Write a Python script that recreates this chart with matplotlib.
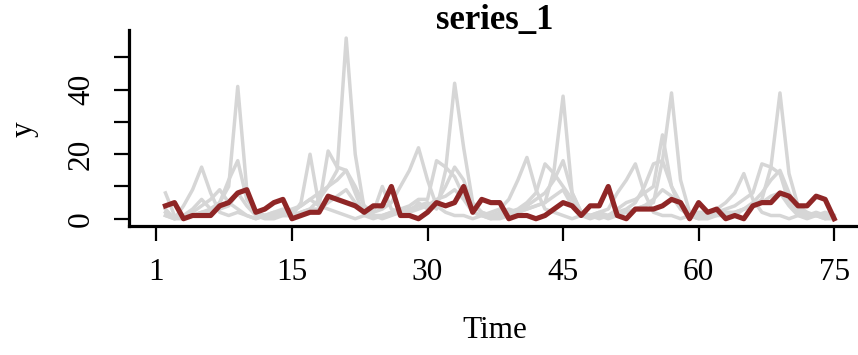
import matplotlib
matplotlib.use("Agg")
import matplotlib.pyplot as plt

# time index and axis labels
time = list(range(1, 76))
xtick_pos = [0, 15, 30, 45, 60, 75]
xtick_labels = ["1", "15", "30", "45", "60", "75"]
ytick_pos = [0, 10, 20, 30, 40, 50]
ytick_labels = ["0", "", "20", "", "40", ""]

# highlighted series
series_1 = [4, 5, 0, 1, 1, 1, 4, 5, 8, 9, 2, 3,
            5, 6, 0, 1, 2, 2, 7, 6, 5, 4, 2, 4,
            4, 10, 1, 1, 0, 2, 5, 4, 5, 10, 2, 6,
            5, 5, 0, 1, 1, 0, 1, 3, 5, 4, 1, 4,
            4, 10, 1, 0, 3, 3, 3, 4, 6, 5, 0, 5,
            2, 3, 0, 1, 0, 4, 5, 5, 8, 7, 4, 4,
            7, 6, 0]

# other series drawn in grey behind
series_a = [8, 1, 0, 1, 2, 3, 5, 10, 41, 9, 2, 1,
            1, 2, 2, 4, 6, 8, 10, 15, 56, 20, 3, 1,
            1, 2, 2, 3, 4, 5, 3, 15, 42, 22, 5, 2,
            1, 1, 2, 2, 3, 4, 5, 15, 38, 8, 2, 1,
            1, 1, 2, 2, 3, 4, 5, 18, 39, 12, 2, 1,
            1, 1, 2, 2, 3, 4, 6, 16, 39, 14, 4, 2,
            1, 1, 0]
series_b = [2, 0, 4, 9, 16, 8, 2, 1, 2, 1, 0, 1,
            2, 1, 1, 5, 20, 4, 3, 2, 1, 0, 1, 2,
            3, 5, 10, 15, 22, 12, 4, 2, 1, 1, 0, 1,
            2, 3, 6, 12, 19, 9, 3, 2, 1, 0, 1, 1,
            2, 3, 8, 12, 17, 8, 2, 1, 1, 0, 1, 2,
            2, 3, 5, 8, 14, 6, 2, 1, 1, 0, 1, 1,
            2, 1, 0]
series_c = [1, 0, 1, 2, 4, 6, 9, 5, 3, 1, 0, 1,
            1, 2, 3, 4, 6, 4, 21, 16, 15, 8, 1, 0,
            1, 2, 3, 4, 6, 6, 18, 16, 13, 7, 2, 1,
            0, 1, 2, 3, 5, 8, 17, 14, 10, 6, 2, 1,
            0, 1, 2, 3, 5, 10, 17, 18, 10, 3, 1, 0,
            1, 2, 3, 4, 6, 8, 17, 16, 14, 5, 2, 1,
            1, 0, 1]
series_d = [3, 0, 1, 3, 6, 3, 5, 12, 18, 6, 2, 1,
            2, 3, 1, 2, 3, 6, 10, 12, 15, 10, 4, 2,
            10, 3, 2, 2, 5, 3, 5, 10, 16, 12, 4, 2,
            1, 2, 3, 2, 4, 6, 8, 12, 18, 8, 2, 1,
            2, 1, 3, 5, 6, 8, 10, 26, 10, 5, 2, 1,
            2, 3, 2, 1, 3, 5, 8, 12, 15, 8, 3, 1,
            1, 2, 1]
series_e = [1, 0, 0, 1, 2, 2, 3, 4, 8, 4, 1, 0,
            0, 1, 1, 2, 3, 3, 5, 7, 9, 5, 2, 1,
            0, 1, 2, 2, 3, 4, 6, 7, 9, 6, 2, 1,
            0, 0, 1, 2, 3, 4, 5, 7, 9, 4, 1, 0,
            1, 0, 1, 2, 3, 4, 6, 9, 7, 3, 1, 0,
            0, 1, 1, 2, 3, 4, 5, 7, 8, 4, 1, 0,
            1, 0, 0]
grey_series = [series_a, series_b, series_c, series_d, series_e]

plt.rcParams['font.family'] = ['Liberation Serif', 'DejaVu Serif']

fig = plt.figure(figsize=(8.58, 3.55), dpi=100)
# axes box reaches slightly past the right edge, like the original
ax = fig.add_axes([129.3 / 858, 129 / 355, 732 / 858, 196 / 355])

for s in grey_series:
    ax.plot(time, s, color="#d6d6d6", lw=2.5)
ax.plot(time, series_1, color="#8f2626", lw=3.7)

ax.set_xlim(-3, 78)
ax.set_ylim(-2.25, 58.5)
ax.spines['top'].set_visible(False)
ax.spines['right'].set_visible(False)
for sp in ['left', 'bottom']:
    ax.spines[sp].set_linewidth(2.3)

ax.set_xticks(xtick_pos)
ax.set_xticklabels(xtick_labels)
ax.set_yticks(ytick_pos)
ax.set_yticklabels(ytick_labels, rotation=90, va='center')
ax.tick_params(axis='both', length=11, width=1.6, labelsize=22.5, direction='out')
ax.tick_params(axis='x', pad=12)
ax.tick_params(axis='y', pad=13)

fig.text(495 / 858, 1 - 331 / 355, "Time", ha='center', va='center', fontsize=22.5)
fig.text(24 / 858, 1 - 129 / 355, "y", ha='center', va='center', rotation=90, fontsize=22.5)
fig.text(495 / 858, 1 - 21 / 355, "series_1", ha='center', va='center',
         fontsize=25, fontweight='bold')

fig.savefig("out.png", dpi=100)
